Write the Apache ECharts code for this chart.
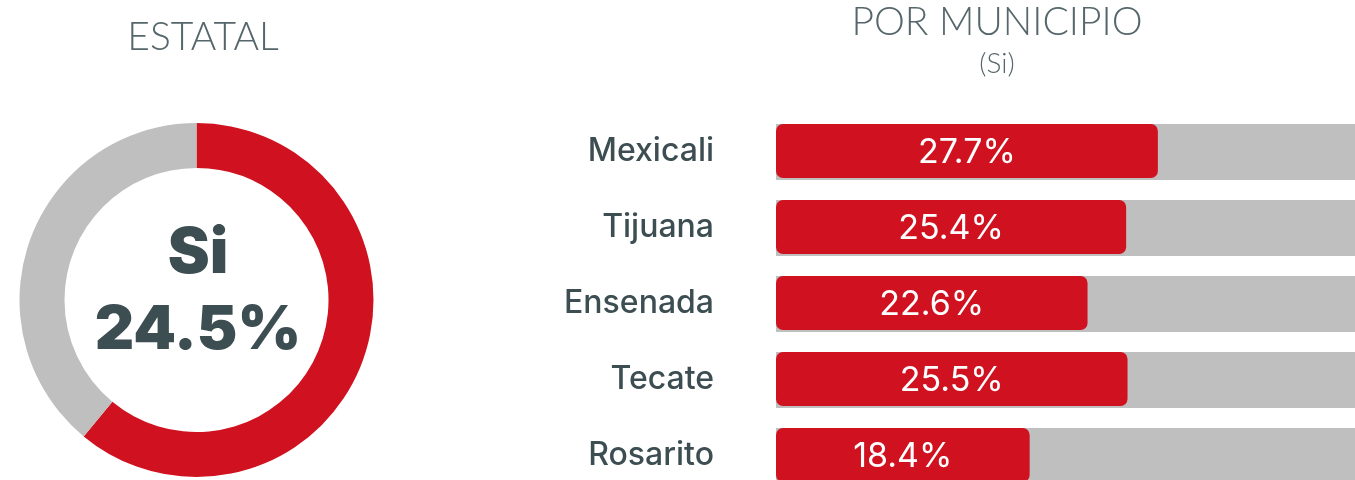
<!DOCTYPE html>
<html>
<head>
<meta charset="utf-8">
<script src="https://cdn.jsdelivr.net/npm/echarts@6/dist/echarts.min.js"></script>
<style>
html,body{margin:0;padding:0;background:#fff;}
#chart{width:1355px;height:480px;}
</style>
</head>
<body>
<div id="chart"></div>
<script>
// ---- data ----
const categories = ['Mexicali', 'Tijuana', 'Ensenada', 'Tecate', 'Rosarito'];
const siValues = [27.7, 25.4, 22.6, 25.5, 18.4];
const trackMax = 42;
const estatalLabel = 'Si';
const estatalValue = 24.5;
const donutNames = ['Si', 'Resto'];
const donutValues = [61, 39];

const RED = '#d01120';
const GRAY = '#bfbfbf';
const DARK = '#3d4e53';
const TITLE = '#56676c';

const chart = echarts.init(document.getElementById('chart'), null, {renderer: 'canvas'});

const option = {
  animation: false,
  backgroundColor: '#ffffff',
  graphic: [
    {type: 'text', style: {text: 'ESTATAL', x: 203, y: 37, align: 'center', verticalAlign: 'middle', fill: TITLE, font: '300 39px Lato'}},
    {type: 'text', style: {text: 'POR MUNICIPIO', x: 997, y: 22, align: 'center', verticalAlign: 'middle', fill: TITLE, font: '300 39px Lato'}},
    {type: 'text', style: {text: '(Si)', x: 997, y: 64, align: 'center', verticalAlign: 'middle', fill: TITLE, font: '300 28px Lato'}},
    {type: 'text', style: {text: estatalLabel, x: 198, y: 254, align: 'center', verticalAlign: 'middle', fill: DARK, font: '900 63px Inter'}},
    {type: 'text', style: {text: estatalValue.toFixed(1) + '%', x: 198, y: 331, align: 'center', verticalAlign: 'middle', fill: DARK, font: '900 61px Inter'}}
  ],
  grid: {left: 776, right: 0, top: 113, height: 380, containLabel: false, outerBoundsMode: 'none'},
  xAxis: {
    type: 'value', min: 0, max: trackMax,
    show: false
  },
  yAxis: {
    type: 'category', data: categories, inverse: true,
    axisLine: {show: false}, axisTick: {show: false}, splitLine: {show: false},
    axisLabel: {color: DARK, fontFamily: 'Inter', fontWeight: 500, fontSize: 32, margin: 62, padding: [8, 0, 0, 0]}
  },
  series: [
    {
      type: 'bar', name: 'track',
      data: categories.map(() => trackMax),
      barWidth: 56, barGap: '-100%',
      itemStyle: {color: GRAY},
      silent: true, z: 1
    },
    {
      type: 'bar', name: 'Si',
      data: siValues,
      barWidth: 54,
      itemStyle: {color: RED, borderRadius: 7},
      label: {
        show: true, position: 'inside', color: '#ffffff', offset: [0, 2],
        fontFamily: 'Inter', fontWeight: 400, fontSize: 34,
        formatter: p => p.value.toFixed(1) + '%'
      },
      z: 2
    },
    {
      type: 'pie',
      center: [196.5, 300],
      radius: [132, 177],
      startAngle: 90,
      clockwise: true,
      label: {show: false},
      labelLine: {show: false},
      emphasis: {disabled: true},
      data: donutNames.map((n, i) => ({name: n, value: donutValues[i], itemStyle: {color: i === 0 ? RED : GRAY}}))
    }
  ]
};
chart.setOption(option);
</script>
</body>
</html>
